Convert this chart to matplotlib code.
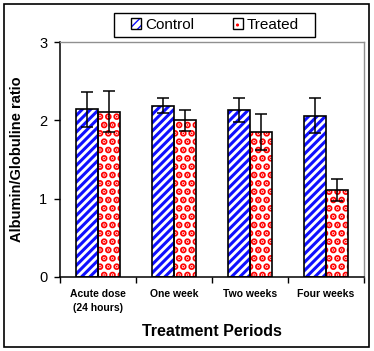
import numpy as np
import matplotlib
matplotlib.use("Agg")
import matplotlib.pyplot as plt
from matplotlib.patches import Patch, Rectangle

plt.rcParams['font.family'] = ['Liberation Sans', 'DejaVu Sans']

# ---- data ----
periods = ["Acute dose\n(24 hours)", "One week", "Two weeks", "Four weeks"]
control = [2.14, 2.19, 2.13, 2.06]
control_err = [0.22, 0.09, 0.15, 0.22]
treated = [2.11, 2.00, 1.85, 1.11]
treated_err = [0.26, 0.135, 0.23, 0.14]

x = np.arange(len(periods))
w = 0.29
blue, red = "#1010ff", "#ff0000"
hatch_c, hatch_t = "////", ".."

fig = plt.figure(figsize=(3.74, 3.51), dpi=100)
ax = fig.add_axes([0.160, 0.211, 0.813, 0.669])

# hatched fills (each with its own hatch width), then black outlines on top
with plt.rc_context({'hatch.linewidth': 2.2}):
    ax.bar(x - w / 2, control, w, color="white", edgecolor=blue, hatch=hatch_c, linewidth=0)
    h_c = Patch(facecolor="white", edgecolor=blue, hatch=hatch_c, linewidth=0)
with plt.rc_context({'hatch.linewidth': 3.5}):
    ax.bar(x + w / 2, treated, w, color="white", edgecolor=red, hatch=hatch_t, linewidth=0)
    h_t = Patch(facecolor="white", edgecolor=red, hatch=hatch_t, linewidth=0)
ax.bar(x - w / 2, control, w, fill=False, edgecolor="black", linewidth=1.2)
ax.bar(x + w / 2, treated, w, fill=False, edgecolor="black", linewidth=1.2)

ax.errorbar(x - w / 2, control, yerr=control_err, fmt="none", ecolor="black",
            elinewidth=1.1, capsize=4, capthick=1.1)
ax.errorbar(x + w / 2, treated, yerr=treated_err, fmt="none", ecolor="black",
            elinewidth=1.1, capsize=4, capthick=1.1)

ax.set_xlim(-0.5, len(periods) - 0.5)
ax.set_ylim(0, 3)
ax.set_yticks([0, 1, 2, 3])
ax.set_yticklabels(["0", "1", "2", "3"], fontsize=10.5)
ax.set_xticks(x)
ax.set_xticklabels(periods, fontsize=7.5, fontweight="bold", linespacing=1.4)
ax.set_xticks(np.arange(len(periods) + 1) - 0.5, minor=True)
ax.tick_params(axis="x", which="major", length=0, pad=9)
ax.tick_params(axis="x", which="minor", length=4, direction="out", width=1)
ax.tick_params(axis="y", length=4, direction="out", width=1, pad=5)

for s in ["left", "bottom"]:
    ax.spines[s].set_color("black")
    ax.spines[s].set_linewidth(1.1)
for s in ["top", "right"]:
    ax.spines[s].set_color("#909090")
    ax.spines[s].set_linewidth(1.0)

ax.set_ylabel("Albumin/Globuline ratio", fontsize=10.5, fontweight="bold", labelpad=11)
ax.set_xlabel("Treatment Periods", fontsize=11.5, fontweight="bold", labelpad=8)

outline = dict(fill=False, edgecolor="black", linewidth=1.0)
handles = [(h_c, Patch(**outline)), (h_t, Patch(**outline))]
leg = fig.legend(handles, ["Control", "Treated"], loc="center",
                 bbox_to_anchor=(0.575, 0.929), ncol=2, fontsize=11,
                 frameon=False, handlelength=0.65, handleheight=0.65,
                 columnspacing=2.5, handletextpad=0.26, borderpad=0.2)

# legend box is wider than the default legend frame
fig.patches.append(Rectangle((0.305, 0.8946), 0.537, 0.069, transform=fig.transFigure,
                             fill=False, edgecolor="black", linewidth=1.0))

# outer figure border
fig.patches.append(Rectangle((0.011, 0.011), 0.976, 0.977, transform=fig.transFigure,
                             fill=False, edgecolor="black", linewidth=1.2))

fig.savefig("out.png", dpi=100)
